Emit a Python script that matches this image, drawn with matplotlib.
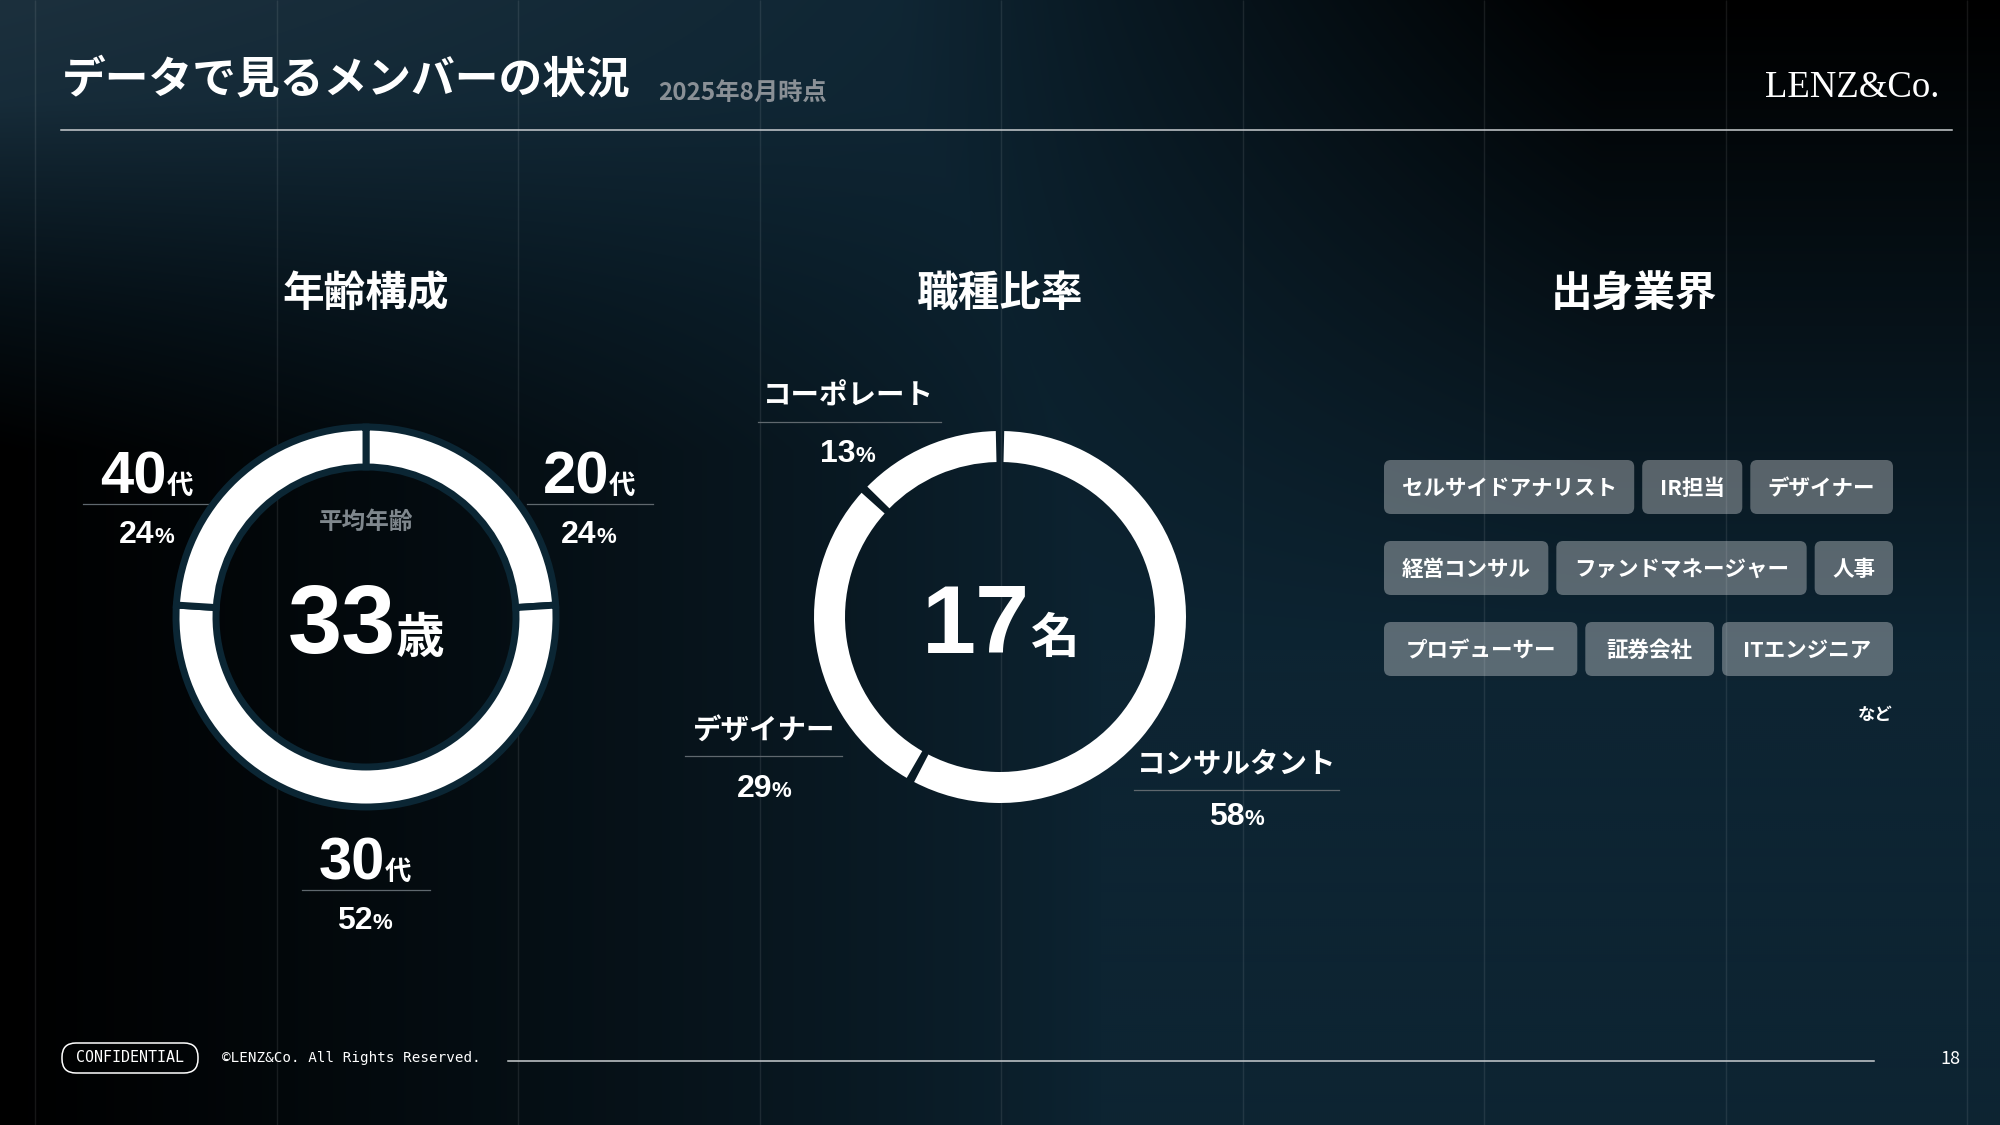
import numpy as np
import matplotlib.pyplot as plt
from matplotlib.patches import FancyBboxPatch

plt.rcParams['font.family'] = ['Noto Sans CJK JP', 'DejaVu Sans']

# ---- data ----
title = 'データで見るメンバーの状況'
subtitle = '2025年8月時点'
avg_age = 33
headcount = 17

age_groups = ['20', '30', '40']
age_share = [24, 52, 24]

job_names = ['コンサルタント', 'デザイナー', 'コーポレート']
job_share = [58, 29, 13]

industry_rows = [
    ['セルサイドアナリスト', 'IR担当', 'デザイナー'],
    ['経営コンサル', 'ファンドマネージャー', '人事'],
    ['プロデューサー', '証券会社', 'ITエンジニア'],
]

W, H = 2000, 1125
NUM = 'Liberation Sans'
JP = 'Noto Sans CJK JP'
fig = plt.figure(figsize=(20, 11.25), dpi=100)
ax = fig.add_axes([0, 0, 1, 1])
ax.set_xlim(0, W)
ax.set_ylim(H, 0)
ax.axis('off')
r = fig.canvas.get_renderer()

# ---- background ----
yy, xx = np.mgrid[0:H:2, 0:W:2].astype(float)
base = np.array([13, 36, 50]) / 255
light = np.array([28, 48, 61]) / 255
L = np.clip(1 - xx / 1100, 0, 1) * np.clip(1 - yy / 300, 0, 1)
D1 = np.clip(1 - xx / 1100, 0, 1) ** 0.8 * np.clip((yy - 100) / 350, 0, 1)
D2 = np.clip((xx - 900) / 700, 0, 1) * np.clip(1 - yy / 650, 0, 1)
D = np.maximum(D1, D2)
img = ((1 - L)[..., None] * base + L[..., None] * light) * (1 - D)[..., None]
ax.imshow(img, extent=(0, W, H, 0), aspect='auto', zorder=0, interpolation='bilinear')

grid_x = 35 + 241.5 * np.arange(9)
ax.vlines(grid_x, 0, H, color='white', alpha=0.09, lw=1, zorder=1)

# ---- header ----
ax.text(62, 92, title, fontsize=31.5, fontweight='bold', color='white', va='baseline')
ax.text(658, 100, subtitle, fontsize=17.5, fontweight='bold', color='#8a9096', va='baseline')
ax.text(1939, 97, 'LENZ&Co.', fontsize=26.5, color='white', family='Liberation Serif',
        ha='right', va='baseline')
ax.plot([61, 1952], [130, 130], color='#c9cdd0', lw=1.1)

# ---- section titles ----
for x, s in [(366, '年齢構成'), (1000, '職種比率'), (1634, '出身業界')]:
    ax.text(x, 306, s, fontsize=30, fontweight='bold', color='white', ha='center', va='baseline')


def combo(x, y, parts, color='white'):
    arts = [ax.text(0, y, s, fontsize=fs, family=fam, color=color, fontweight='bold',
                    va='baseline', ha='left') for s, fs, fam in parts]
    widths = [a.get_window_extent(r).width for a in arts]
    x0 = x - sum(widths) / 2
    for a, w in zip(arts, widths):
        a.set_x(x0)
        x0 += w


def underline(x0, x1, y):
    ax.plot([x0, x1], [y, y], color='#5f686e', lw=0.9)


def donut_ax(cx, cy, R=200):
    a = fig.add_axes([(cx - R) / W, 1 - (cy + R) / H, 2 * R / W, 2 * R / H])
    a.axis('off')
    return a


def fix_limits(a):
    a.set_xlim(-1, 1)
    a.set_ylim(-1, 1)


# ---- age donut ----
a1 = donut_ax(366, 617)
a1.pie(age_share, radius=190 / 200, startangle=90, counterclock=False,
       colors=['white'] * 3,
       wedgeprops=dict(width=40 / 200, edgecolor='#0b2634', linewidth=5))
fix_limits(a1)
ax.text(366, 529, '平均年齢', fontsize=17, fontweight='bold', color='#7f878d', ha='center', va='baseline')
combo(366, 653, [(str(avg_age), 70, NUM), ('歳', 35, JP)])

age_pos = {'20': (589, 494, 527, 653), '30': (365, 880, 302, 430), '40': (147, 494, 83, 210)}
for g, share in zip(age_groups, age_share):
    x, y, l0, l1 = age_pos[g]
    combo(x, y, [(g, 43, NUM), ('代', 19, JP)])
    underline(l0, l1, y + 10)
    combo(x, y + 49, [(str(share), 23, NUM), ('%', 16, NUM)])

# ---- job donut ----
a2 = donut_ax(1000, 617)
wedges, _ = a2.pie(job_share, radius=186 / 200, startangle=90, counterclock=False,
                   colors=['white'] * 3, wedgeprops=dict(width=31 / 200, linewidth=0))
for w in wedges:
    w.set_theta1(w.theta1 + 1.3)
    w.set_theta2(w.theta2 - 1.3)
fix_limits(a2)
combo(1000, 653, [(str(headcount), 70, NUM), ('名', 35, JP)])

job_pos = {'コーポレート': (848, 405, 758, 941, 462),
           'デザイナー': (764, 739, 685, 842, 797),
           'コンサルタント': (1237, 773, 1134, 1339, 825)}
for name, share in zip(job_names, job_share):
    x, y, l0, l1, y2 = job_pos[name]
    ax.text(x, y, name, fontsize=20.5, fontweight='bold', color='white', ha='center', va='baseline')
    underline(l0, l1, y + 17)
    combo(x, y2, [(str(share), 23, NUM), ('%', 16, NUM)])

# ---- industry tags ----
row_tops = [460, 541, 622]
tag_h = 54
x_left, x_right, gap = 1384, 1893, 8
for row, top in zip(industry_rows, row_tops):
    texts = [ax.text(0, top + tag_h / 2 + 8, s, fontsize=15.5, fontweight='bold', color='white',
                     ha='center', va='baseline', zorder=4) for s in row]
    widths = [t.get_window_extent(r).width for t in texts]
    pad = (x_right - x_left - gap * (len(row) - 1) - sum(widths)) / len(row)
    x = x_left
    for t, w in zip(texts, widths):
        bw = w + pad
        ax.add_patch(FancyBboxPatch((x, top), bw, tag_h, boxstyle='round,pad=0,rounding_size=7',
                                    fc='white', alpha=0.32, ec='none', zorder=3))
        t.set_x(x + bw / 2)
        x += bw + gap
ax.text(1893, 720, 'など', fontsize=12.5, fontweight='bold', color='white', ha='right', va='baseline')

# ---- footer ----
ax.add_patch(FancyBboxPatch((62, 1043), 136, 30, boxstyle='round,pad=0,rounding_size=14',
                            fc='none', ec='white', lw=1.1))
ax.text(130, 1058, 'CONFIDENTIAL', fontsize=10.8, family='DejaVu Sans Mono', color='white',
        ha='center', va='center')
ax.text(222, 1058, '©LENZ&Co. All Rights Reserved.', fontsize=10.3, family='DejaVu Sans Mono',
        color='white', ha='left', va='center')
ax.plot([508, 1874], [1061, 1061], color='#c9cdd0', lw=1.1)
ax.text(1950, 1059, '18', fontsize=13, color='white', ha='center', va='center')

fig.savefig('out.png', dpi=100)
